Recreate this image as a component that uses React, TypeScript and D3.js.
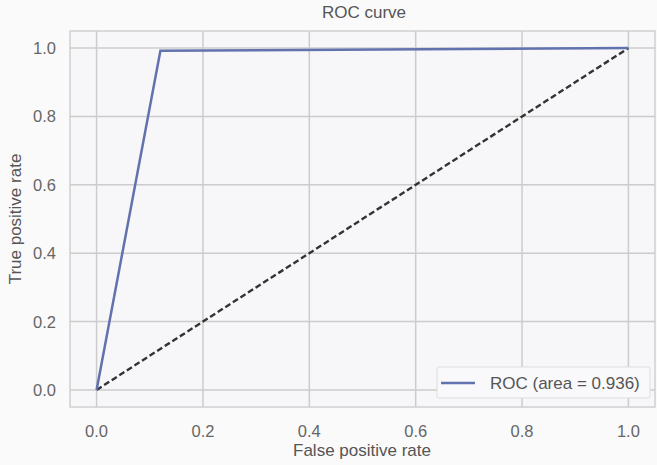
import React from "react";
import * as d3 from "d3";

const fpr = [0, 0.12, 1];
const tpr = [0, 0.992, 1];
const diagX = [0, 1];
const diagY = [0, 1];
const ticks = [0, 0.2, 0.4, 0.6, 0.8, 1.0];
const legendLabel = "ROC (area = 0.936)";
const title = "ROC curve";
const xLabel = "False positive rate";
const yLabel = "True positive rate";

export default function App() {
  const W = 657, H = 465;
  const left = 70, right = 655, top = 31, bottom = 407;
  const x = d3.scaleLinear().domain([-0.05, 1.05]).range([left, right]);
  const y = d3.scaleLinear().domain([-0.05, 1.05]).range([bottom, top]);
  const line = d3.line<[number, number]>().x(d => x(d[0])).y(d => y(d[1]));
  const roc = line(fpr.map((v, i) => [v, tpr[i]] as [number, number])) || "";
  const diag = line(diagX.map((v, i) => [v, diagY[i]] as [number, number])) || "";
  const font = "'Liberation Sans', Arial, sans-serif";
  return (
    <svg width={W} height={H} style={{ position: "absolute", left: 0, top: 0, background: "#fafafa" }}>
      <rect x={0} y={0} width={W} height={H} fill="#fafafa" />
      <rect x={left} y={top} width={right - left} height={bottom - top} fill="#f7f7f9" stroke="#d0d0d0" strokeWidth={1.5} />
      {ticks.map(t => (
        <g key={"g" + t}>
          <line x1={x(t)} x2={x(t)} y1={top} y2={bottom} stroke="#cccccc" strokeWidth={1.5} />
          <line x1={left} x2={right} y1={y(t)} y2={y(t)} stroke="#cccccc" strokeWidth={1.5} />
          <text x={x(t)} y={437} textAnchor="middle" fontFamily={font} fontSize={16.5} fill="#666">{t.toFixed(1)}</text>
          <text x={56} y={y(t) + 6} textAnchor="end" fontFamily={font} fontSize={16.5} fill="#666">{t.toFixed(1)}</text>
        </g>
      ))}
      <path d={diag} fill="none" stroke="#333" strokeWidth={2.4} strokeDasharray="6,3" />
      <path d={roc} fill="none" stroke="#6272ae" strokeWidth={2.5} />
      <rect x={437} y={367} width={213} height={31} fill="#f9f9fc" stroke="#dddddd" strokeWidth={1} rx={2} />
      <line x1={441} x2={475} y1={383} y2={383} stroke="#6272ae" strokeWidth={2.5} />
      <text x={490} y={389} fontFamily={font} fontSize={17} fill="#555">{legendLabel}</text>
      <text x={364} y={18} textAnchor="middle" fontFamily={font} fontSize={17} fill="#555">{title}</text>
      <text x={362} y={456} textAnchor="middle" fontFamily={font} fontSize={17} fill="#555">{xLabel}</text>
      <text transform={`translate(21,${(top + bottom) / 2}) rotate(-90)`} textAnchor="middle" fontFamily={font} fontSize={17} fill="#555">{yLabel}</text>
    </svg>
  );
}
